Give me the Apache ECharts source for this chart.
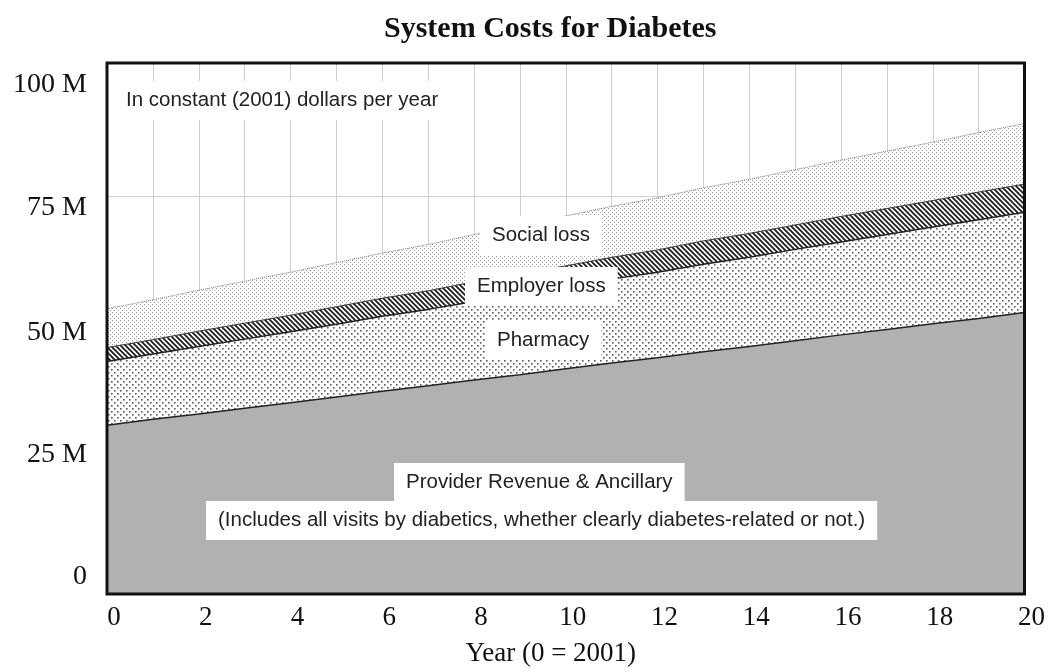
<!DOCTYPE html>
<html>
<head>
    <meta charset="utf-8">
    <title>System Costs for Diabetes</title>
    <script src="https://cdn.jsdelivr.net/npm/echarts@6.0.0/dist/echarts.min.js"></script>
    <style>
        body { margin: 0; background: #fff; }
    </style>
</head>
<body>
    <div id="main" style="width: 1048px; height: 672px;"></div>

    <script>
        // years 0..20 (0 = 2001)
        var years = ['0', '1', '2', '3', '4', '5', '6', '7', '8', '9', '10',
                     '11', '12', '13', '14', '15', '16', '17', '18', '19', '20'];

        // stacked amounts, millions of constant 2001 dollars per year
        var provider = [31.8, 32.9, 33.9, 35.0, 36.0, 37.1, 38.2, 39.2, 40.3, 41.3, 42.4,
                        43.5, 44.5, 45.6, 46.6, 47.7, 48.8, 49.8, 50.9, 51.9, 53.0];
        var pharmacy = [12.0, 12.3, 12.7, 13.0, 13.4, 13.7, 14.1, 14.4, 14.8, 15.1, 15.5,
                        15.8, 16.1, 16.5, 16.8, 17.2, 17.5, 17.9, 18.2, 18.6, 18.9];
        var employer = [2.6, 2.7, 2.9, 3.0, 3.1, 3.3, 3.4, 3.5, 3.7, 3.8, 3.9,
                        4.1, 4.2, 4.4, 4.5, 4.6, 4.8, 4.9, 5.0, 5.2, 5.3];
        var social = [7.3, 7.5, 7.7, 7.9, 8.1, 8.3, 8.5, 8.7, 8.9, 9.1, 9.4,
                      9.6, 9.8, 10.0, 10.2, 10.4, 10.6, 10.8, 11.0, 11.2, 11.4];

        var yTickLabels = { 0: '0', 25: '25 M', 50: '50 M', 75: '75 M', 100: '100 M' };

        // fill patterns
        function makePattern(size, draw) {
            var c = document.createElement('canvas');
            c.width = size;
            c.height = size;
            var ctx = c.getContext('2d');
            ctx.fillStyle = '#fff';
            ctx.fillRect(0, 0, size, size);
            draw(ctx);
            return { image: c, repeat: 'repeat' };
        }

        var socialFill = makePattern(4, function (ctx) {
            ctx.fillStyle = '#999';
            ctx.fillRect(0, 0, 1, 1);
            ctx.fillRect(2, 2, 1, 1);
        });

        var pharmacyFill = makePattern(6, function (ctx) {
            ctx.fillStyle = '#5a5a5a';
            ctx.fillRect(0, 0, 1.6, 1.6);
            ctx.fillRect(3, 3, 1.6, 1.6);
        });

        var hatchFill = makePattern(5, function (ctx) {
            ctx.strokeStyle = '#222';
            ctx.lineWidth = 1.9;
            ctx.beginPath();
            ctx.moveTo(-1, -1); ctx.lineTo(6, 6);
            ctx.moveTo(-1, 4); ctx.lineTo(1, 6);
            ctx.moveTo(4, -1); ctx.lineTo(6, 1);
            ctx.stroke();
        });

        var myChart = echarts.init(document.getElementById('main'));

        var sans = 'Liberation Sans, Arial, sans-serif';
        var serif = 'Liberation Serif, Times New Roman, serif';

        // white label box
        function boxText(text, x, y) {
            return {
                type: 'text',
                left: x,
                top: y,
                z: 100,
                style: {
                    text: text,
                    font: '20.5px ' + sans,
                    fill: '#222',
                    backgroundColor: '#fff',
                    padding: [9, 12, 9, 12]
                }
            };
        }

        var yRich = {};
        [[0, [0, 0, 34, 0]], [25, [0, 0, 14, 0]], [50, [8, 0, 0, 0]], [75, [24, 0, 0, 0]], [100, [44, 0, 0, 0]]]
            .forEach(function (p) {
                yRich['y' + p[0]] = { fontFamily: serif, fontSize: 28, color: '#111', padding: p[1] };
            });

        var option = {
            animation: false,
            backgroundColor: '#fff',
            title: {
                text: 'System Costs for Diabetes',
                left: 379,
                top: 9,
                textStyle: { fontFamily: serif, fontWeight: 'bold', fontSize: 30, color: '#111' }
            },
            grid: {
                left: 107, right: 23, top: 63, bottom: 75,
                show: true, z: 10,
                borderWidth: 3, borderColor: '#111',
                backgroundColor: 'transparent'
            },
            xAxis: {
                type: 'category',
                data: years,
                boundaryGap: false,
                name: 'Year (0 = 2001)',
                nameLocation: 'middle',
                nameGap: 46,
                nameTextStyle: { fontFamily: serif, fontSize: 27, color: '#111', padding: [0, 30, 0, 0] },
                axisLine: { show: false },
                axisTick: { show: false },
                axisLabel: {
                    interval: 0,
                    margin: 10,
                    fontFamily: serif, fontSize: 27, color: '#111',
                    padding: [0, 0, 0, 14],
                    formatter: function (v) { return Number(v) % 2 === 0 ? v : ''; }
                },
                splitLine: { show: true, interval: 0, lineStyle: { color: '#cfcfcf', width: 1 } }
            },
            yAxis: {
                type: 'value',
                min: 0, max: 100, interval: 25,
                axisLine: { show: false },
                axisTick: { show: false },
                axisLabel: {
                    margin: 20,
                    formatter: function (v) { return '{y' + v + '|' + yTickLabels[v] + '}'; },
                    rich: yRich
                },
                splitLine: { show: true, lineStyle: { color: '#cfcfcf', width: 1 } }
            },
            series: [
                {
                    name: 'Provider Revenue & Ancillary',
                    type: 'line', stack: 'cost', symbol: 'none',
                    data: provider,
                    lineStyle: { color: '#222', width: 1.5 },
                    areaStyle: { color: '#b1b1b1', opacity: 1 }
                },
                {
                    name: 'Pharmacy',
                    type: 'line', stack: 'cost', symbol: 'none',
                    data: pharmacy,
                    lineStyle: { color: '#222', width: 1.5 },
                    areaStyle: { color: pharmacyFill, opacity: 1 }
                },
                {
                    name: 'Employer loss',
                    type: 'line', stack: 'cost', symbol: 'none',
                    data: employer,
                    lineStyle: { color: '#333', width: 1 },
                    areaStyle: { color: hatchFill, opacity: 1 }
                },
                {
                    name: 'Social loss',
                    type: 'line', stack: 'cost', symbol: 'none',
                    data: social,
                    lineStyle: { color: '#777', width: 1, type: 'dotted' },
                    areaStyle: { color: socialFill, opacity: 1 }
                }
            ],
            graphic: [
                boxText('In constant (2001) dollars per year', 114, 81),
                boxText('Social loss', 480, 216),
                boxText('Employer loss', 465, 267),
                boxText('Pharmacy', 485, 321),
                boxText('Provider Revenue & Ancillary', 394, 463),
                boxText('(Includes all visits by diabetics, whether clearly diabetes-related or not.)', 206, 501)
            ]
        };

        myChart.setOption(option);
    </script>
</body>
</html>
